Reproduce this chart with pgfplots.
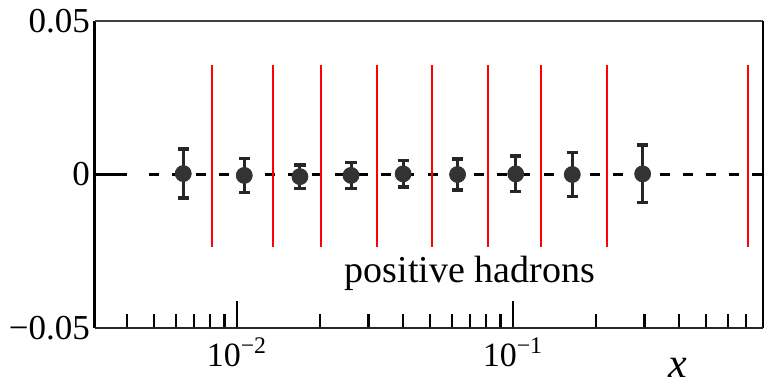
\documentclass[border=0pt]{standalone}
\usepackage{pgfplots}
\pgfplotsset{compat=1.18}
\usepackage{pgfplotstable}
\usepackage{fontspec}
\setmainfont{Liberation Serif}
\definecolor{markgray}{HTML}{333333}

\pgfplotstableread{
x y e
0.00639 0.0003 0.0080
0.01063 -0.0003 0.0056
0.01691 -0.0007 0.0038
0.0259 -0.0003 0.0042
0.0400 0.0002 0.0043
0.0630 0.0000 0.0050
0.1023 0.0002 0.0058
0.1640 0.0000 0.0072
0.295 0.0002 0.0094
}\datatable

\begin{document}
\begin{tikzpicture}
\path[use as bounding box] (-47.5pt,-31pt) rectangle (337.5pt,164pt);
\begin{axis}[
  name=ax,
  xmode=log,
  scale only axis,
  width=334pt, height=153.5pt,
  xmin=0.00306, xmax=0.805,
  ymin=-0.05, ymax=0.05,
  scaled y ticks=false,
  axis line style={draw=none},
  xtick={0.01,0.1},
  xticklabels={10\textsuperscript{−2},10\textsuperscript{−1}},
  minor xtick={0.004,0.005,0.006,0.007,0.008,0.009,0.02,0.03,0.04,0.05,0.06,0.07,0.08,0.09,0.2,0.3,0.4,0.5,0.6,0.7},
  xtick pos=left,
  tick align=inside,
  major tick length=13.5pt,
  minor tick length=7pt,
  every tick/.style={black, line width=1.2pt},
  ytick={-0.05,0,0.05},
  yticklabels={−0.05,0,0.05},
  ytick style={draw=none},
  yticklabel style={font=\fontsize{17.5}{19}\selectfont, xshift=1pt},
  xticklabel style={font=\fontsize{17}{19}\selectfont, yshift=-1.5pt},
  xlabel={\textit{x}},
  xlabel style={at={(axis description cs:0.873,0)}, anchor=center, yshift=-20pt, font=\fontsize{21}{23}\selectfont},
  clip=false,
]
% frame
\draw[black, line width=1.5pt] (rel axis cs:0,0) -- (rel axis cs:0,1);
\draw[black!75, line width=1pt] (rel axis cs:0,1) -- (rel axis cs:1,1);
\draw[black, line width=1.3pt] (rel axis cs:1,1) -- (rel axis cs:1,0);
\draw[black!85, line width=1.3pt] (rel axis cs:1,0) -- (rel axis cs:0,0);
% zero line
\addplot[black, line width=1.2pt, forget plot] coordinates {(0.00306,0) (0.0040,0)};
\addplot[black, line width=1.2pt, dash pattern=on 5pt off 6.6pt, dash phase=-2pt, forget plot] coordinates {(0.00465,0) (0.805,0)};
% bin edges
\pgfplotsinvokeforeach{0.0081,0.01346,0.0201,0.0322,0.0507,0.0814,0.1263,0.2185,0.709}{
  \addplot[red, line width=1pt, forget plot] coordinates {(#1,-0.0236) (#1,0.0357)};
}
% data
\addplot[only marks, mark=*, mark size=4pt, mark options={fill=markgray, draw=markgray},
  error bars/.cd, y dir=both, y explicit,
  error bar style={line width=1.5pt, black!85},
  error mark options={rotate=90, mark size=2.8pt, line width=1.7pt, black!85}]
  table[x=x, y=y, y error=e] {\datatable};
\node[anchor=base, font=\fontsize{19}{22}\selectfont] at (axis cs:0.0698,-0.0353) {positive hadrons};
\end{axis}
\end{tikzpicture}
\end{document}
